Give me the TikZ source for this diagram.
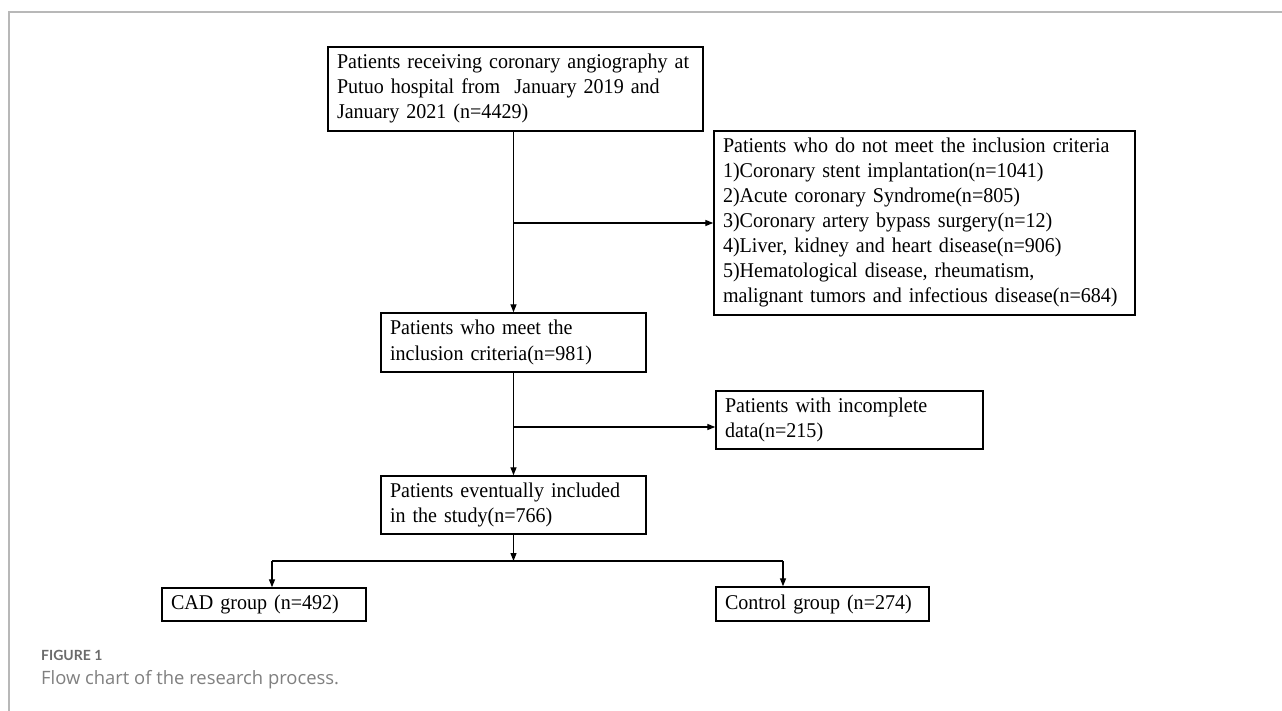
\documentclass[tikz,border=0pt]{standalone}
\usepackage{fontspec}
\setmainfont[FakeStretch=0.955]{Liberation Serif}
\newfontfamily\capfont{Lato}
\newfontfamily\captextfont{Open Sans}
\usetikzlibrary{arrows.meta}
\newcommand\boxlines[1]{\begin{tabular}{@{}l@{}}#1\end{tabular}}
\begin{document}
\begin{tikzpicture}[x=1pt,y=-1pt,
  box/.style={draw, line width=1.4pt, inner xsep=9pt, inner ysep=0pt, align=left,
    font=\fontsize{21}{25}\selectfont, anchor=center},
  conn/.style={line width=1.3pt},
  arr/.style={conn, -{Triangle[length=8pt,width=6pt]}}]
\useasboundingbox (0,0) rectangle (1282,711);
\fill[white] (0,0) rectangle (1282,711);
% frame
\draw[black!28, line width=1.5pt] (9,711) -- (9,12) -- (1282,12);
% boxes
\node[box, minimum width=375pt, minimum height=84pt, text width=357pt] (b1) at (515.5,89)
  {\boxlines{Patients receiving coronary angiography at\\Putuo hospital from\ \ January 2019 and\\January 2021 (n=4429)}};
\node[box, minimum width=421pt, minimum height=184pt, text width=403pt] (b2) at (924.5,223)
  {\boxlines{Patients who do not meet the inclusion criteria\\1)Coronary stent implantation(n=1041)\\2)Acute coronary Syndrome(n=805)\\3)Coronary artery bypass surgery(n=12)\\4)Liver, kidney and heart disease(n=906)\\5)Hematological disease, rheumatism,\\malignant tumors and infectious disease(n=684)}};
\node[box, minimum width=265pt, minimum height=59pt, text width=247pt] (b3) at (513.5,342.5)
  {\boxlines{Patients who meet the\\inclusion criteria(n=981)}};
\node[box, minimum width=267pt, minimum height=58pt, text width=249pt] (b5) at (849.5,420)
  {\boxlines{Patients with incomplete\\data(n=215)}};
\node[box, minimum width=265pt, minimum height=58pt, text width=247pt] (b4) at (513.5,505)
  {\boxlines{Patients eventually included\\in the study(n=766)}};
\node[box, minimum width=204pt, minimum height=33pt, text width=186pt] (cad) at (264,604.5)
  {\boxlines{CAD group (n=492)}};
\node[box, minimum width=213pt, minimum height=34pt, text width=195pt] (ctrl) at (822.5,604)
  {\boxlines{Control group (n=274)}};
% connectors
\draw[arr] (b1.south -| b3.north) -- (b3.north);
\coordinate (j1) at (b3.north |- b2.west);
\draw[arr] (j1) -- (b2.west);
\draw[arr] (b3.south) -- (b4.north);
\coordinate (j2) at (513.5,427);
\draw[arr] (j2) -- (j2 -| b5.west);
\coordinate (hm) at (513.5,561);
\coordinate (hl) at (272,561);
\coordinate (hr) at (783,561);
\draw[arr] (b4.south) -- (hm);
\draw[conn] (hl) -- (hr);
\draw[arr] (hl) -- (hl |- cad.north);
\draw[arr] (hr) -- (hr |- ctrl.north);
% caption
\node[anchor=base west, inner sep=0pt, text=black!58,
  font=\capfont\bfseries\fontsize{14}{16}\selectfont] (fig) at (41,660) {FIGURE 1};
\node[anchor=base west, inner sep=0pt, text=black!50,
  font=\captextfont\fontsize{18.4}{21}\selectfont] (cap) at (41,684) {Flow chart of the research process.};
\end{tikzpicture}
\end{document}
